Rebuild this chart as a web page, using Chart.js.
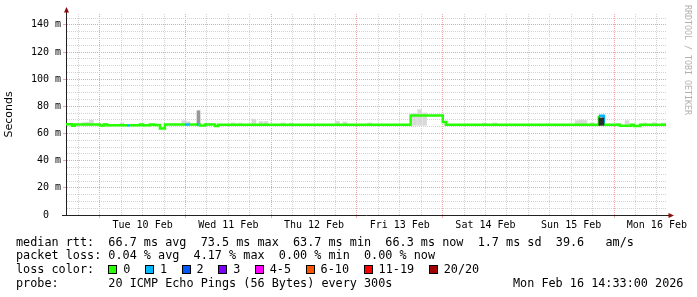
<!DOCTYPE html>
<html>
<head>
<meta charset="utf-8">
<script src="https://cdn.jsdelivr.net/npm/chart.js@4.4.1/dist/chart.umd.min.js"></script>
<style>
body { margin: 0; background: #fff; }
#wrap { position: relative; width: 697px; height: 297px; overflow: hidden; }
#c { position: absolute; left: 0; top: 0; }
.leg { position: absolute; font-family: 'DejaVu Sans Mono', monospace; font-size: 11.8px; line-height: 14px; white-space: pre; color: #000; }
.box { position: absolute; width: 7px; height: 7px; border: 1px solid #000; }
#credit { position: absolute; left: 683px; top: 5px; writing-mode: vertical-rl; font-family: 'DejaVu Sans Mono', monospace; font-size: 8.3px; line-height: 9px; color: #b0b0b0; white-space: pre; }
</style>
</head>
<body>
<div id="wrap">
  <canvas id="c" width="697" height="297"></canvas>
  <div id="credit">RRDTOOL / TOBI OETIKER</div>
</div>
<script>
// hours since Mon 9 Feb 14:33 (start of the graph)
var dayLabels = ['Tue 10 Feb', 'Wed 11 Feb', 'Thu 12 Feb', 'Fri 13 Feb', 'Sat 14 Feb', 'Sun 15 Feb', 'Mon 16 Feb']
var firstMidnight = 9.45
var spanHours = 168

// median rtt (ms), value holds from that hour on; loss = index into lossColors
var medianHours = [0, 1.7, 2.5, 9.5, 10.6, 11.5, 17.1, 17.9, 20.7, 21.6, 23.5, 24.6, 26.3, 27.7, 33.3, 34.7, 36.7, 37.2, 37.5, 38.9, 41.7, 42.6, 96.5, 105.5, 106.4, 149.2, 150.6, 155.1, 158.2, 159.0, 160.7, 168]
var medianMs    = [66.8, 65.8, 66.6, 65.9, 66.6, 66.0, 66.0, 66.0, 66.6, 66.0, 66.6, 66.2, 63.7, 66.6, 66.6, 66.6, 66.6, 66.6, 65.9, 66.6, 65.6, 66.5, 73.3, 68.5, 66.4, 73.0, 66.4, 65.8, 66.4, 65.6, 66.4, 66.3]
var medianLoss  = [0, 0, 0, 0, 0, 0, 1, 0, 0, 0, 0, 0, 0, 0, 1, 0, 1, 0, 0, 0, 0, 0, 0, 0, 0, 1, 0, 0, 0, 0, 0, 0]

// smoke (spread of the pings), top value in ms
var smokeLightHours = [5.0, 6.2, 7.1, 11.2, 15.7, 33.0, 34.2, 39.5, 40.3, 46.8, 48.7, 52.6, 54.6, 56.0, 60.8, 63.1, 76.0, 78.1, 85.0, 97.6, 99.0, 100.4, 106.4, 117.2, 120.1, 143.1, 144.2, 145.3, 147.3, 154.6, 157.1, 162.1, 164.8, 167.3]
var smokeLightHigh  = [68.0, 68.3, 69.8, 67.5, 67.8, 69.5, 68.7, 67.5, 67.5, 67.8, 67.6, 70.6, 68.8, 68.8, 67.8, 67.6, 69.0, 68.5, 67.8, 74.8, 77.6, 75.2, 69.0, 67.6, 67.8, 69.5, 70.0, 69.6, 68.0, 67.5, 69.5, 67.8, 68.0, 67.8]
var smokeMidHours = [37.1]
var smokeMidHigh  = [76.8]
var smokeDarkHours = [149.9]
var smokeDarkHigh  = [71.5]
var smokeBase = 66.0

var lossLabels = ['0', '1', '2', '3', '4-5', '6-10', '11-19', '20/20']
var lossColors = ['#26ff00', '#00b8ff', '#0059ff', '#7e00ff', '#ff00ff', '#ff5500', '#ff0000', '#a10000']

var statLines = [
  'median rtt:  66.7 ms avg  73.5 ms max  63.7 ms min  66.3 ms now  1.7 ms sd  39.6   am/s',
  'packet loss: 0.04 % avg  4.17 % max  0.00 % min  0.00 % now'
]
var probeText = 'probe:       20 ICMP Echo Pings (56 Bytes) every 300s'
var dateText = 'Mon Feb 16 14:33:00 2026'

// ---- legend text under the graph
var wrap = document.getElementById('wrap')
function addText(txt, x, y) {
  var d = document.createElement('div')
  d.className = 'leg'
  d.style.left = x + 'px'
  d.style.top = y + 'px'
  d.textContent = txt
  wrap.appendChild(d)
}
addText(statLines[0], 16, 234.5)
addText(statLines[1], 16, 248.2)
addText('loss color:', 16, 261.9)
addText(probeText, 16, 275.6)
addText(dateText, 513, 275.6)

var lx = 123.3
for (var i = 0; i < lossLabels.length; i++) {
  var b = document.createElement('div')
  b.className = 'box'
  b.style.left = (lx - 15) + 'px'
  b.style.top = '265px'
  b.style.background = lossColors[i]
  wrap.appendChild(b)
  addText(lossLabels[i], lx, 261.9)
  lx += lossLabels[i].length * 7.117 + 29.5
}

// ---- chart data
var medianPts = []
for (var i = 0; i < medianHours.length; i++) medianPts.push({x: medianHours[i], y: medianMs[i]})

function bars(hours, highs) {
  var out = []
  for (var i = 0; i < hours.length; i++) out.push({x: hours[i], y: [smokeBase, highs[i]]})
  return out
}

// grid every 6 hours, red at midnight, day label at noon
var gridHours = []
for (var h = firstMidnight - 6; h <= spanHours; h += 6) gridHours.push(+h.toFixed(2))

function isMidnight(v) { return Math.abs(((v - firstMidnight) % 24 + 24) % 24) < 0.01 }
function dayIndex(v) {
  var k = (v - firstMidnight - 12) / 24
  return Math.abs(k - Math.round(k)) < 0.01 ? Math.round(k) : -1
}

var arrows = {
  id: 'arrows',
  afterDraw: function(chart) {
    var ctx = chart.ctx, a = chart.chartArea
    ctx.save()
    ctx.strokeStyle = '#222'
    ctx.lineWidth = 1
    ctx.beginPath()
    ctx.moveTo(Math.round(a.left) + 0.5, a.top)
    ctx.lineTo(Math.round(a.left) + 0.5, a.top - 3)
    ctx.moveTo(a.left - 4, Math.round(a.bottom) + 0.5)
    ctx.lineTo(a.left, Math.round(a.bottom) + 0.5)
    ctx.moveTo(a.right, Math.round(a.bottom) + 0.5)
    ctx.lineTo(a.right + 3, Math.round(a.bottom) + 0.5)
    ctx.stroke()
    ctx.fillStyle = '#8b0a0a'
    var x0 = Math.round(a.left) + 0.5
    ctx.beginPath()
    ctx.moveTo(x0, a.top - 7)
    ctx.lineTo(x0 - 2.5, a.top - 1.5)
    ctx.lineTo(x0 + 2.5, a.top - 1.5)
    ctx.closePath()
    ctx.fill()
    var y0 = Math.round(a.bottom) + 0.5
    ctx.beginPath()
    ctx.moveTo(a.right + 8, y0)
    ctx.lineTo(a.right + 2.5, y0 - 2.5)
    ctx.lineTo(a.right + 2.5, y0 + 2.5)
    ctx.closePath()
    ctx.fill()
    ctx.restore()
  }
}

var monoTick = { family: 'DejaVu Sans Mono', size: 10 }

new Chart(document.getElementById('c').getContext('2d'), {
  type: 'line',
  data: {
    datasets: [
      {
        type: 'line',
        label: 'median',
        data: medianPts,
        stepped: 'before',
        borderColor: lossColors[0],
        borderWidth: 2.5,
        pointRadius: 0,
        fill: false,
        order: 1,
        segment: {
          borderColor: function(ctx) { return lossColors[medianLoss[ctx.p0DataIndex]] }
        }
      },
      {
        type: 'bar',
        label: 'smoke light',
        data: bars(smokeLightHours, smokeLightHigh),
        backgroundColor: '#d9d9d9',
        barThickness: 4,
        grouped: false,
        order: 2
      },
      {
        type: 'bar',
        label: 'smoke mid',
        data: bars(smokeMidHours, smokeMidHigh),
        backgroundColor: '#979797',
        barThickness: 3,
        grouped: false,
        order: 2
      },
      {
        type: 'bar',
        label: 'smoke dark',
        data: bars(smokeDarkHours, smokeDarkHigh),
        backgroundColor: '#2e2e2e',
        barThickness: 5,
        grouped: false,
        order: 0
      }
    ]
  },
  options: {
    responsive: false,
    animation: false,
    layout: { padding: { left: 0, top: 14, right: 31, bottom: 0 } },
    plugins: { legend: { display: false }, tooltip: { enabled: false } },
    scales: {
      x: {
        type: 'linear',
        min: 0,
        max: spanHours,
        offset: false,
        afterBuildTicks: function(s) { s.ticks = gridHours.map(function(v) { return {value: v} }) },
        afterFit: function(s) { s.height = 82 },
        grid: {
          offset: false,
          drawTicks: true,
          tickLength: 3,
          color: function(c) { return isMidnight(c.tick.value) ? '#eba5a5' : '#d3d3d3' },
          tickColor: function(c) { return isMidnight(c.tick.value) ? '#eba5a5' : 'rgba(0,0,0,0)' }
        },
        border: { color: '#222', width: 1, dash: [1, 1] },
        ticks: {
          autoSkip: false,
          maxRotation: 0,
          minRotation: 0,
          padding: 1,
          color: '#000',
          font: monoTick,
          callback: function(v) {
            var k = dayIndex(v)
            return k >= 0 && k < dayLabels.length ? dayLabels[k] : ''
          }
        }
      },
      y: {
        min: 0,
        max: 148,
        afterFit: function(s) { s.width = 66 },
        grid: {
          drawTicks: true,
          tickLength: 3,
          color: function(c) { return c.tick.value % 20 === 0 ? '#eba5a5' : '#d3d3d3' },
          tickColor: function(c) { return c.tick.value % 20 === 0 ? '#eba5a5' : 'rgba(0,0,0,0)' }
        },
        border: { color: '#222', width: 1, dash: [1, 1] },
        title: {
          display: true,
          text: 'Seconds',
          color: '#000',
          font: { family: 'DejaVu Sans', size: 11 },
          padding: { top: 3, bottom: 0 }
        },
        ticks: {
          stepSize: 5,
          includeBounds: false,
          autoSkip: false,
          padding: 2,
          color: '#000',
          font: monoTick,
          callback: function(v) {
            if (v % 20 !== 0) return ''
            return v === 0 ? '0  ' : v + ' m'
          }
        }
      }
    }
  },
  plugins: [arrows]
})
</script>
</body>
</html>
